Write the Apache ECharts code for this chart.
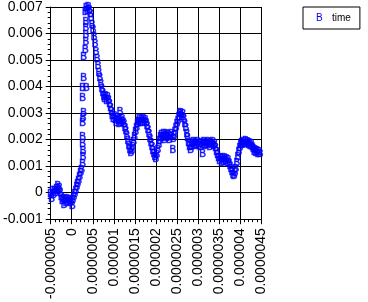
<!DOCTYPE html>
<html><head><meta charset="utf-8">
<script src="https://cdn.jsdelivr.net/npm/echarts@6/dist/echarts.min.js"></script>
<style>html,body{margin:0;padding:0;background:#fff;}#c{width:368px;height:302px;}</style>
</head><body><div id="c"></div>
<script>
const seriesName = 'time';
const xTickLabels = ['-0.0000005','0','0.0000005','0.000001','0.0000015','0.000002','0.0000025','0.000003','0.0000035','0.000004','0.0000045'];
const yTickLabels = ['-0.001','0','0.001','0.002','0.003','0.004','0.005','0.006','0.007'];

const timeX = [
-5.00e-7,-4.77e-7,-4.54e-7,-4.31e-7,-4.08e-7,-3.85e-7,-3.62e-7,-3.28e-7,-3.17e-7,-2.94e-7,
-2.71e-7,-2.48e-7,-2.25e-7,-2.02e-7,-1.79e-7,-1.56e-7,-1.33e-7,-1.10e-7,-0.87e-7,-0.64e-7,
-0.41e-7,-0.18e-7,0.16e-7,0.28e-7,0.50e-7,0.73e-7,0.96e-7,1.19e-7,1.42e-7,1.65e-7,
1.88e-7,2.11e-7,2.34e-7,2.57e-7,2.68e-7,2.68e-7,2.57e-7,2.57e-7,2.57e-7,2.68e-7,
2.80e-7,2.57e-7,2.57e-7,3.49e-7,2.80e-7,2.80e-7,3.26e-7,3.37e-7,3.37e-7,3.37e-7,
3.37e-7,3.26e-7,3.49e-7,3.72e-7,3.94e-7,4.17e-7,4.40e-7,4.63e-7,4.86e-7,5.09e-7,
5.32e-7,5.55e-7,5.78e-7,6.01e-7,6.24e-7,6.47e-7,6.70e-7,6.93e-7,7.16e-7,7.39e-7,
7.61e-7,7.84e-7,8.07e-7,8.30e-7,8.53e-7,8.76e-7,8.99e-7,9.22e-7,9.45e-7,9.68e-7,
9.91e-7,10.14e-7,10.37e-7,10.60e-7,10.83e-7,11.06e-7,11.28e-7,11.51e-7,11.51e-7,11.74e-7,
11.97e-7,12.20e-7,12.43e-7,12.66e-7,12.89e-7,13.12e-7,13.35e-7,13.58e-7,13.81e-7,14.04e-7,
14.27e-7,14.50e-7,14.72e-7,14.95e-7,15.18e-7,15.41e-7,15.64e-7,15.87e-7,16.10e-7,16.33e-7,
16.56e-7,16.79e-7,17.02e-7,17.25e-7,17.48e-7,17.71e-7,17.94e-7,18.17e-7,18.39e-7,18.62e-7,
18.85e-7,19.08e-7,19.31e-7,19.54e-7,19.77e-7,20.00e-7,20.23e-7,20.46e-7,20.69e-7,20.92e-7,
21.15e-7,21.38e-7,21.61e-7,21.84e-7,22.06e-7,22.29e-7,22.52e-7,22.75e-7,22.98e-7,23.21e-7,
23.44e-7,23.67e-7,24.01e-7,24.13e-7,24.36e-7,24.59e-7,24.82e-7,25.05e-7,25.28e-7,25.51e-7,
25.73e-7,25.96e-7,26.19e-7,26.42e-7,26.65e-7,26.88e-7,27.11e-7,27.34e-7,27.57e-7,27.80e-7,
28.03e-7,28.26e-7,28.49e-7,28.72e-7,28.95e-7,29.17e-7,29.40e-7,29.63e-7,29.86e-7,30.09e-7,
30.32e-7,30.55e-7,30.78e-7,31.12e-7,31.24e-7,31.47e-7,31.70e-7,31.93e-7,32.16e-7,32.39e-7,
32.61e-7,32.84e-7,33.07e-7,33.30e-7,33.53e-7,33.76e-7,33.99e-7,34.22e-7,34.45e-7,34.68e-7,
34.91e-7,35.14e-7,35.37e-7,35.60e-7,35.83e-7,36.06e-7,36.28e-7,36.51e-7,36.74e-7,36.97e-7,
37.20e-7,37.43e-7,37.66e-7,37.89e-7,38.12e-7,38.35e-7,38.58e-7,38.81e-7,39.04e-7,39.27e-7,
39.50e-7,39.72e-7,39.95e-7,40.18e-7,40.41e-7,40.64e-7,40.87e-7,41.10e-7,41.33e-7,41.56e-7,
41.79e-7,42.02e-7,42.25e-7,42.48e-7,42.71e-7,42.94e-7,43.17e-7,43.39e-7,43.62e-7,43.85e-7,
44.08e-7,44.31e-7,44.54e-7,44.77e-7
];

const valueY = [
-0.07e-3,-0.26e-3,0.04e-3,-0.11e-3,0.07e-3,-0.04e-3,0.11e-3,0.24e-3,0.04e-3,0.15e-3,
-0.04e-3,-0.19e-3,-0.33e-3,-0.26e-3,-0.48e-3,-0.30e-3,-0.41e-3,-0.26e-3,-0.37e-3,-0.30e-3,
-0.41e-3,-0.33e-3,-0.50e-3,-0.30e-3,-0.19e-3,-0.07e-3,0.04e-3,0.19e-3,0.33e-3,0.44e-3,
0.59e-3,0.74e-3,0.83e-3,1.07e-3,1.33e-3,1.57e-3,1.81e-3,2.07e-3,2.63e-3,2.81e-3,
3.00e-3,3.56e-3,3.93e-3,3.93e-3,4.30e-3,5.11e-3,5.37e-3,5.67e-3,5.93e-3,6.19e-3,
6.44e-3,6.81e-3,6.96e-3,6.85e-3,7.00e-3,6.89e-3,6.74e-3,6.56e-3,6.33e-3,6.11e-3,
5.85e-3,5.59e-3,5.30e-3,5.04e-3,4.78e-3,4.52e-3,4.30e-3,4.07e-3,3.89e-3,3.74e-3,
3.59e-3,3.52e-3,3.63e-3,3.44e-3,3.59e-3,3.48e-3,3.33e-3,3.19e-3,3.04e-3,2.89e-3,
2.78e-3,2.89e-3,2.74e-3,2.63e-3,2.81e-3,2.70e-3,2.59e-3,3.02e-3,2.74e-3,2.63e-3,
2.78e-3,2.67e-3,2.56e-3,2.44e-3,2.30e-3,2.11e-3,1.93e-3,1.74e-3,1.59e-3,1.48e-3,
1.56e-3,1.70e-3,1.89e-3,2.07e-3,2.26e-3,2.41e-3,2.56e-3,2.67e-3,2.78e-3,2.63e-3,
2.74e-3,2.63e-3,2.78e-3,2.67e-3,2.74e-3,2.63e-3,2.52e-3,2.37e-3,2.19e-3,2.00e-3,
1.85e-3,1.70e-3,1.56e-3,1.44e-3,1.33e-3,1.26e-3,1.41e-3,1.59e-3,1.78e-3,1.93e-3,
2.07e-3,2.15e-3,2.04e-3,2.19e-3,1.96e-3,2.11e-3,2.22e-3,2.04e-3,2.15e-3,1.96e-3,
2.07e-3,2.19e-3,1.61e-3,2.00e-3,2.11e-3,2.26e-3,2.41e-3,2.56e-3,2.70e-3,2.85e-3,
2.96e-3,3.00e-3,2.85e-3,2.96e-3,2.78e-3,2.59e-3,2.41e-3,2.22e-3,2.04e-3,1.85e-3,
1.70e-3,1.59e-3,1.70e-3,1.81e-3,1.89e-3,1.74e-3,1.85e-3,1.78e-3,1.89e-3,1.74e-3,
1.81e-3,1.70e-3,1.85e-3,1.43e-3,1.78e-3,1.89e-3,1.74e-3,1.85e-3,1.78e-3,1.89e-3,
1.81e-3,1.70e-3,1.85e-3,1.78e-3,1.89e-3,1.74e-3,1.81e-3,1.67e-3,1.52e-3,1.41e-3,
1.30e-3,1.19e-3,1.30e-3,1.11e-3,1.26e-3,1.15e-3,1.30e-3,1.19e-3,1.26e-3,1.11e-3,
1.22e-3,1.11e-3,1.00e-3,0.89e-3,0.78e-3,0.67e-3,0.63e-3,0.74e-3,0.89e-3,1.11e-3,
1.33e-3,1.52e-3,1.67e-3,1.78e-3,1.85e-3,1.78e-3,1.89e-3,1.81e-3,1.93e-3,1.81e-3,
1.89e-3,1.78e-3,1.85e-3,1.74e-3,1.81e-3,1.70e-3,1.63e-3,1.52e-3,1.59e-3,1.48e-3,
1.56e-3,1.44e-3,1.52e-3,1.44e-3
];

const X_MIN = -5e-7, X_MAX = 4.5e-6, X_INT = 5e-7;
const Y_MIN = -0.001, Y_MAX = 0.007, Y_INT = 0.001;
const FONT = 'Liberation Sans';

const points = timeX.map((x, i) => [x, valueY[i]]);

const axisCommon = {
  axisLine: { show: true, onZero: false, lineStyle: { color: '#000', width: 1 } },
  axisTick: { show: true, length: 5, inside: false, lineStyle: { color: '#000', width: 1 } },
  minorTick: { show: true, splitNumber: 5, length: 3, lineStyle: { color: '#000', width: 1 } },
  splitLine: { show: true, lineStyle: { color: '#000', width: 1, type: 'solid' } },
  minorSplitLine: { show: false }
};

const chart = echarts.init(document.getElementById('c'), null, { renderer: 'canvas' });
chart.setOption({
  animation: false,
  backgroundColor: '#fff',
  grid: { left: 43, top: 7, right: 107, bottom: 79, containLabel: false },
  legend: {
    left: 303, top: 7,
    data: [{ name: seriesName, itemStyle: { color: 'rgba(0,0,0,0)', borderWidth: 0 } }],
    itemWidth: 0, itemHeight: 0,
    padding: [6, 9, 6, 8],
    borderColor: '#000', borderWidth: 1, borderRadius: 0,
    backgroundColor: '#fff',
    selectedMode: false,
    formatter: name => '{b|B}{t|' + name + '}',
    textStyle: {
      rich: {
        b: { color: '#0000ff', fontSize: 10, width: 16, fontFamily: FONT },
        t: { color: '#000', fontSize: 10, fontFamily: FONT }
      }
    }
  },
  xAxis: Object.assign({
    type: 'value', min: X_MIN, max: X_MAX, interval: X_INT,
    axisLabel: {
      rotate: 90, margin: 9, color: '#000', fontSize: 14, fontFamily: FONT,
      formatter: v => xTickLabels[Math.round((v - X_MIN) / X_INT)] ?? ''
    }
  }, axisCommon),
  yAxis: Object.assign({
    type: 'value', min: Y_MIN, max: Y_MAX, interval: Y_INT,
    axisLabel: {
      margin: 8, color: '#000', fontSize: 14, fontFamily: FONT,
      formatter: v => yTickLabels[Math.round((v - Y_MIN) / Y_INT)] ?? ''
    }
  }, axisCommon),
  series: [{
    type: 'scatter',
    name: seriesName,
    data: points,
    symbol: 'rect',
    symbolSize: 1,
    itemStyle: { color: 'rgba(0,0,0,0)' },
    clip: false,
    silent: true,
    label: {
      show: true, position: 'inside', formatter: 'B',
      color: '#0000ff', fontSize: 10, fontFamily: FONT,
      textBorderColor: '#0000ff', textBorderWidth: 0.6
    },
    emphasis: { disabled: true }
  }]
});
</script>
</body></html>
